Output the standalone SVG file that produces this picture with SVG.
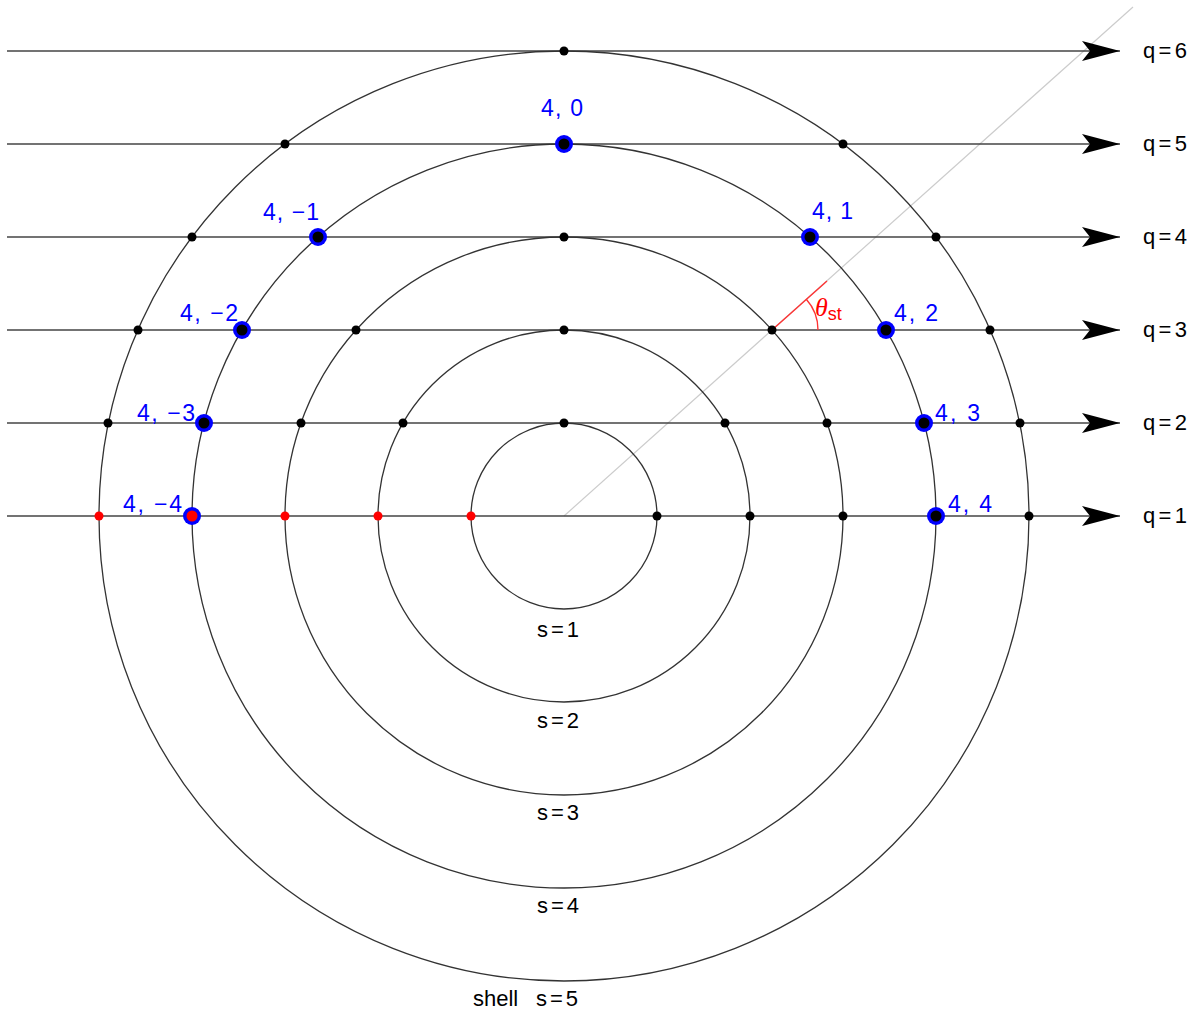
<svg xmlns="http://www.w3.org/2000/svg" width="1200" height="1022" viewBox="0 0 1200 1022">
<style>
.circ{fill:none;stroke:#333;stroke-width:1.3}
.hl{stroke:#444;stroke-width:1.6}
.dot{fill:#000}
.rdot{fill:#f00}
.bn{fill:#00f}
.t{font-family:"Liberation Sans",Arial,sans-serif;font-size:22px;fill:#000}
.bt{font-family:"Liberation Sans",Arial,sans-serif;font-size:23px;fill:#0000ff}
</style>
<defs>
<marker id="arr" markerUnits="userSpaceOnUse" markerWidth="40" markerHeight="24" refX="38" refY="11" orient="auto">
<path d="M0,1 L38,11 L0,21 L8,11 Z" fill="#000"/>
</marker>
</defs>
<rect width="1200" height="1022" fill="#fff"/>
<g id="connectors">
<line x1="564" y1="516" x2="1133" y2="7" stroke="#ccc" stroke-width="1.2"/>
<line class="hl" x1="7" y1="516" x2="1120" y2="516" marker-end="url(#arr)"/>
<line class="hl" x1="7" y1="423" x2="1120" y2="423" marker-end="url(#arr)"/>
<line class="hl" x1="7" y1="330" x2="1120" y2="330" marker-end="url(#arr)"/>
<line class="hl" x1="7" y1="237" x2="1120" y2="237" marker-end="url(#arr)"/>
<line class="hl" x1="7" y1="144" x2="1120" y2="144" marker-end="url(#arr)"/>
<line class="hl" x1="7" y1="51" x2="1120" y2="51" marker-end="url(#arr)"/>
</g>
<g id="shells">
<circle class="circ" cx="564" cy="516" r="93"/>
<circle class="circ" cx="564" cy="516" r="186"/>
<circle class="circ" cx="564" cy="516" r="279"/>
<circle class="circ" cx="564" cy="516" r="372"/>
<circle class="circ" cx="564" cy="516" r="465"/>
</g>
<g id="angle">
<line x1="772" y1="330" x2="827" y2="281" stroke="#f33" stroke-width="1.4"/>
<path d="M818,330 A46,46 0 0 0 806.3,299.3" fill="none" stroke="#f33" stroke-width="1.4"/>
<text x="815" y="316" font-family="'Liberation Serif',serif" font-style="italic" font-size="26" fill="#f00">θ<tspan font-family="'Liberation Sans',Arial,sans-serif" font-style="normal" font-size="18" dy="4">st</tspan></text>
</g>
<g id="dots">
<circle class="rdot" cx="99" cy="516" r="4.5"/>
<circle class="rdot" cx="285" cy="516" r="4.5"/>
<circle class="rdot" cx="378" cy="516" r="4.5"/>
<circle class="rdot" cx="471" cy="516" r="4.5"/>
<circle class="dot" cx="657" cy="516" r="4.5"/>
<circle class="dot" cx="750" cy="516" r="4.5"/>
<circle class="dot" cx="843" cy="516" r="4.5"/>
<circle class="dot" cx="1029" cy="516" r="4.5"/>
<circle class="dot" cx="564" cy="423" r="4.5"/>
<circle class="dot" cx="403" cy="423" r="4.5"/>
<circle class="dot" cx="725" cy="423" r="4.5"/>
<circle class="dot" cx="301" cy="423" r="4.5"/>
<circle class="dot" cx="827" cy="423" r="4.5"/>
<circle class="dot" cx="108" cy="423" r="4.5"/>
<circle class="dot" cx="1020" cy="423" r="4.5"/>
<circle class="dot" cx="564" cy="330" r="4.5"/>
<circle class="dot" cx="356" cy="330" r="4.5"/>
<circle class="dot" cx="772" cy="330" r="4.5"/>
<circle class="dot" cx="138" cy="330" r="4.5"/>
<circle class="dot" cx="990" cy="330" r="4.5"/>
<circle class="dot" cx="564" cy="237" r="4.5"/>
<circle class="dot" cx="192" cy="237" r="4.5"/>
<circle class="dot" cx="936" cy="237" r="4.5"/>
<circle class="dot" cx="285" cy="144" r="4.5"/>
<circle class="dot" cx="843" cy="144" r="4.5"/>
<circle class="dot" cx="564" cy="51" r="4.5"/>
</g>
<g id="n4_0"><circle class="bn" cx="564" cy="144" r="9"/><circle cx="564" cy="144" r="5.5"/><text class="bt" x="541" y="116" textLength="42" lengthAdjust="spacing">4, 0</text></g>
<g id="n4_m1"><circle class="bn" cx="318" cy="237" r="9"/><circle cx="318" cy="237" r="5.5"/><text class="bt" x="263" y="220" textLength="56" lengthAdjust="spacing">4, −1</text></g>
<g id="n4_1"><circle class="bn" cx="810" cy="237" r="9"/><circle cx="810" cy="237" r="5.5"/><text class="bt" x="812" y="219" textLength="41" lengthAdjust="spacing">4, 1</text></g>
<g id="n4_m2"><circle class="bn" cx="242" cy="330" r="9"/><circle cx="242" cy="330" r="5.5"/><text class="bt" x="180" y="321" textLength="58" lengthAdjust="spacing">4, −2</text></g>
<g id="n4_2"><circle class="bn" cx="886" cy="330" r="9"/><circle cx="886" cy="330" r="5.5"/><text class="bt" x="894" y="321" textLength="44" lengthAdjust="spacing">4, 2</text></g>
<g id="n4_m3"><circle class="bn" cx="204" cy="423" r="9"/><circle cx="204" cy="423" r="5.5"/><text class="bt" x="137" y="421" textLength="58" lengthAdjust="spacing">4, −3</text></g>
<g id="n4_3"><circle class="bn" cx="924" cy="423" r="9"/><circle cx="924" cy="423" r="5.5"/><text class="bt" x="935" y="421" textLength="45" lengthAdjust="spacing">4, 3</text></g>
<g id="n4_m4"><circle class="bn" cx="192" cy="516" r="9"/><circle cx="192" cy="516" r="5.5" fill="#f00"/><text class="bt" x="123" y="512" textLength="59" lengthAdjust="spacing">4, −4</text></g>
<g id="n4_4"><circle class="bn" cx="936" cy="516" r="9"/><circle cx="936" cy="516" r="5.5"/><text class="bt" x="948" y="512" textLength="44" lengthAdjust="spacing">4, 4</text></g>
<g id="qlabels">
<text class="t" x="1143" y="58" textLength="44" lengthAdjust="spacing">q=6</text>
<text class="t" x="1143" y="151" textLength="44" lengthAdjust="spacing">q=5</text>
<text class="t" x="1143" y="244" textLength="44" lengthAdjust="spacing">q=4</text>
<text class="t" x="1143" y="337" textLength="44" lengthAdjust="spacing">q=3</text>
<text class="t" x="1143" y="430" textLength="44" lengthAdjust="spacing">q=2</text>
<text class="t" x="1143" y="523" textLength="44" lengthAdjust="spacing">q=1</text>
</g>
<g id="slabels">
<text class="t" x="537" y="637" textLength="42" lengthAdjust="spacing">s=1</text>
<text class="t" x="537" y="728" textLength="42" lengthAdjust="spacing">s=2</text>
<text class="t" x="537" y="820" textLength="42" lengthAdjust="spacing">s=3</text>
<text class="t" x="537" y="913" textLength="42" lengthAdjust="spacing">s=4</text>
<text class="t" x="473" y="1006"><tspan>shell</tspan><tspan x="536" textLength="42" lengthAdjust="spacing">s=5</tspan></text>
</g>
</svg>
